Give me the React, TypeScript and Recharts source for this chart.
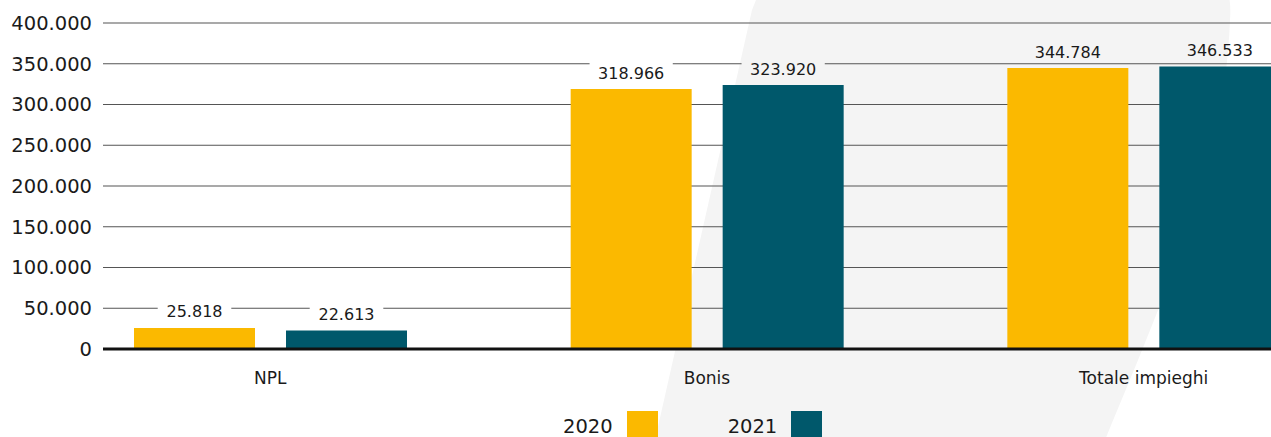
import React from "react";
import { BarChart, Bar, XAxis, YAxis, CartesianGrid, Legend, LabelList } from "recharts";

// categories and values (migliaia di euro)
const categories = ["NPL", "Bonis", "Totale impieghi"];
const values2020 = [25818, 318966, 344784];
const values2021 = [22613, 323920, 346533];
const yTicks = [0, 50000, 100000, 150000, 200000, 250000, 300000, 350000, 400000];
const seriesNames = ["2020", "2021"];

const YELLOW = "#FBB900";
const TEAL = "#00586B";
const TEXT = "#1a1a1a";
const FONT = '"DejaVu Sans", sans-serif';

const rows = categories.map((c, i) => ({
    category: c,
    y2020: values2020[i],
    y2021: values2021[i],
}));

// 50000 -> "50.000"
const fmt = (n: number) =>
    n === 0 ? "0" : String(n).replace(/\B(?=(\d{3})+(?!\d))/g, ".");

const renderLabel = (props: any) => {
    const { x, y, width, value } = props;
    const cx = Number(x) + Number(width) / 2;
    const cy = Number(y) - 16;
    const text = fmt(Number(value));
    const w = text.length * 9.6 + 16;
    // label box takes the colour of the page behind it
    let bg = "#ffffff";
    if (cx > 740 && cx < 1180) bg = "#f4f4f4";
    if (cx >= 1180) bg = "none";
    return (
        <g>
            <rect x={cx - w / 2} y={cy - 11} width={w} height={22} fill={bg} />
            <text
                x={cx}
                y={cy}
                textAnchor="middle"
                dominantBaseline="central"
                fontSize={16}
                fontFamily={FONT}
                fill={TEXT}
            >
                {text}
            </text>
        </g>
    );
};

const renderLegend = () => (
    <div style={{ display: "flex", alignItems: "center", height: 31, fontFamily: FONT }}>
        {seriesNames.map((name, i) => (
            <div key={name} style={{ display: "flex", alignItems: "center", marginLeft: i === 0 ? 0 : 70 }}>
                <span style={{ fontSize: 19.5, color: TEXT, marginRight: 14, lineHeight: "31px" }}>{name}</span>
                <span
                    style={{
                        display: "inline-block",
                        width: 31,
                        height: 31,
                        background: i === 0 ? YELLOW : TEAL,
                    }}
                />
            </div>
        ))}
    </div>
);

const App: React.FC = () => {
    return (
        <div
            style={{
                position: "fixed",
                left: 0,
                top: 0,
                width: 1271,
                height: 437,
                overflow: "hidden",
                background: "#ffffff",
                fontFamily: FONT,
            }}
        >
            {/* faint background shape */}
            <svg style={{ position: "absolute", left: 0, top: 0 }} width={1271} height={437}>
                <path
                    d="M 760 -10 L 1222 -10 Q 1232 -10 1230 20 C 1225 150, 1180 260, 1105 440 L 655 440 L 752 10 Z"
                    fill="#f4f4f4"
                />
            </svg>
            <div style={{ position: "absolute", left: 0, top: 0 }}>
                <BarChart
                    width={1362}
                    height={437}
                    data={rows}
                    margin={{ top: 23, right: 0, bottom: 0, left: 0 }}
                    barSize={121}
                    barGap={31}
                >
                    <CartesianGrid vertical={false} stroke="#555" strokeWidth={1.2} />
                    <XAxis
                        dataKey="category"
                        padding={{ left: -51, right: 0 }}
                        axisLine={{ stroke: "#111", strokeWidth: 3 }}
                        tickLine={false}
                        tickSize={0}
                        tickMargin={23}
                        height={57}
                        interval={0}
                        tick={{ fontSize: 17, fill: TEXT, fontFamily: FONT }}
                    />
                    <YAxis
                        width={103}
                        domain={[0, 400000]}
                        ticks={yTicks}
                        tickFormatter={fmt}
                        axisLine={false}
                        tickLine={false}
                        tickSize={0}
                        tickMargin={11}
                        tick={{ fontSize: 19.5, fill: TEXT, fontFamily: FONT }}
                    />
                    <Legend content={renderLegend} wrapperStyle={{ left: 563, top: 411, width: "auto" }} />
                    <Bar dataKey="y2020" name="2020" fill={YELLOW} isAnimationActive={false}>
                        <LabelList dataKey="y2020" content={renderLabel} />
                    </Bar>
                    <Bar dataKey="y2021" name="2021" fill={TEAL} isAnimationActive={false}>
                        <LabelList dataKey="y2021" content={renderLabel} />
                    </Bar>
                </BarChart>
            </div>
        </div>
    );
};

export default App;
